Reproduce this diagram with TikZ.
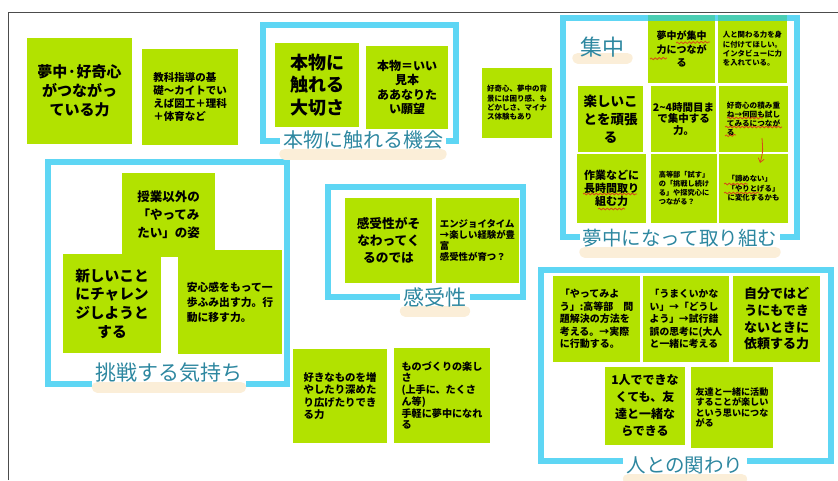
\documentclass[tikz,border=0pt]{standalone}
\usepackage{fontspec}
\newfontfamily\jp{Noto Sans CJK JP}
\usetikzlibrary{calc,decorations.pathmorphing,arrows.meta}
\definecolor{notegreen}{RGB}{178,226,0}
\definecolor{framecyan}{RGB}{40,200,240}
\definecolor{titleteal}{RGB}{45,135,160}
\definecolor{hlbeige}{RGB}{251,238,216}
\definecolor{redpen}{RGB}{214,75,25}
\newcommand\jpfs[2]{\jp\bfseries\fontsize{#1}{#2}\selectfont}
\newcommand\jpt[1]{\jp\fontsize{#1}{#1}\selectfont}
\pgfdeclarelayer{back}
\pgfdeclarelayer{mid}
\pgfsetlayers{back,mid,main}
\begin{document}
\begin{tikzpicture}[x=1pt,y=-1pt,
  note/.style={fill=notegreen, inner sep=0pt, text=black},
  cnote/.style={note, align=center},
  lnote/.style={note, align=left},
  sz/.style n args={2}{minimum width=#1pt, minimum height=#2pt},
  frame/.style={draw=framecyan, line width=5.5pt, opacity=0.75},
  ftitle/.style={text=titleteal, inner sep=1pt},
  hl/.style={draw=hlbeige, line width=11pt, line cap=round},
  squig/.style={draw=redpen, line width=0.8pt, decorate, decoration={snake, amplitude=0.9pt, segment length=4pt}},
  redarrow/.style={draw=redpen, line width=0.8pt, -{Straight Barb[length=4pt,width=6pt]}},
  outer/.style={draw=black!70, line width=1pt}
]
\useasboundingbox (0,0) rectangle (838,480);
\draw[outer] (8,480) -- (8,12) -- (838,12);

\begin{pgfonlayer}{back}
\node[cnote, sz={105}{106}, font=\jpfs{15}{19}] (b1) at (79.5,91) {夢中·好奇心\\がつながっ\\ている力};
\node[lnote, sz={96}{96}, font=\jpfs{10.5}{12.8}] (b2) at (190,97) {教科指導の基\\礎～カイトでい\\えば図工＋理科\\＋体育など};
\node[cnote, sz={84}{84}, font=\jpfs{18}{22.5}] (b3) at (317,85) {本物に\\触れる\\大切さ};
\node[cnote, sz={82}{83}, font=\jpfs{12}{14.5}] (b4) at (407,87.5) {本物＝いい\\見本\\ああなりた\\い願望};
\node[lnote, sz={70}{70}, font=\jpfs{7.5}{9.3}] (b5) at (517,103) {好奇心、夢中の背\\景には困り感、も\\どかしさ、マイナ\\ス体験もあり};
\node[cnote, sz={67}{68}, font=\jpfs{10}{13.3}] (b6) at (681.5,49) {夢中が集中\\力につなが\\る};
\node[lnote, sz={69}{68}, font=\jpfs{7.4}{9.4}] (b7) at (752.5,49) {人と関わる力を身\\に付けてほしい。\\インタビューに力\\を入れている。};
\node[cnote, sz={65}{66}, font=\jpfs{13.5}{18}] (b8) at (610.5,119) {楽しいこ\\とを頑張\\る};
\node[cnote, sz={65}{66}, font=\jpfs{10.5}{11.5}] (b9) at (683.5,119) {2\string~4時間目ま\\で集中する\\力。};
\node[lnote, sz={69}{66}, font=\jpfs{7.6}{9.3}] (b10) at (753.5,119) {好奇心の積み重\\ね→何回も試し\\てみるにつなが\\る};
\node[cnote, sz={69}{69}, font=\jpfs{11}{13.3}] (b11) at (611.5,188.5) {作業などに\\長時間取り\\組む力};
\node[lnote, sz={66}{69}, font=\jpfs{7.2}{9}] (b12) at (684,188.5) {高等部「試す」\\の「挑戦し続け\\る」や探究心に\\つながる？};
\node[lnote, sz={69}{69}, font=\jpfs{7.4}{9.5}] (b13) at (753.5,188.5) {「諦めない」\\「やりとげる」\\に変化するかも};
\node[cnote, sz={93}{84}, font=\jpfs{12.5}{18}] (b14) at (168.5,215) {授業以外の\\「やってみ\\たい」の姿};
\node[cnote, sz={98}{99}, font=\jpfs{14.7}{18.7}] (b15) at (112,303.5) {新しいこと\\にチャレン\\ジしようと\\する};
\node[lnote, sz={104}{104}, font=\jpfs{10.8}{15}] (b16) at (230,302) {安心感をもって一\\歩ふみ出す力。行\\動に移す力。};
\node[cnote, sz={87}{85}, font=\jpfs{12.7}{16.7}] (b17) at (388.5,240.5) {感受性がそ\\なわってく\\るのでは};
\node[lnote, sz={83}{85}, font=\jpfs{9.4}{11}] (b18) at (477.5,240.5) {エンジョイタイム\\→楽しい経験が豊\\富\\感受性が育つ？};
\node[lnote, sz={94}{94}, font=\jpfs{10.4}{12.6}] (b19) at (340,396) {好きなものを増\\やしたり深めた\\り広げたりでき\\る力};
\node[lnote, sz={96}{95}, font=\jpfs{10.1}{11.7}] (b20) at (442,395.5) {ものづくりの楽し\\さ\\(上手に、たくさ\\ん等)\\手軽に夢中になれ\\る};
\node[lnote, sz={87}{86}, font=\jpfs{10}{12.5}] (b21) at (596.5,319) {「やってみよ\\う」:高等部　問\\題解決の方法を\\考える。→実際\\に行動する。};
\node[lnote, sz={86}{86}, font=\jpfs{9.8}{12.5}] (b22) at (686,319) {「うまくいかな\\い」→「どうし\\よう」→試行錯\\誤の思考に(大人\\と一緒に考える};
\node[cnote, sz={87}{86}, font=\jpfs{13}{16.7}] (b23) at (776.5,319) {自分ではど\\うにもでき\\ないときに\\依頼する力};
\node[cnote, sz={80}{78}, font=\jpfs{12}{17}] (b24) at (645,406) {1人でできな\\くても、友\\達と一緒な\\らできる};
\node[lnote, sz={82}{81}, font=\jpfs{9.1}{10.5}] (b25) at (732,407.5) {友達と一緒に活動\\することが楽しい\\という思いにつな\\がる};

\draw[frame] (263,25) rectangle (456,141);
\draw[frame] (563,18) rectangle (797,237);
\draw[frame] (48,162) rectangle (287,384);
\draw[frame] (328,187) rectangle (523,297);
\draw[frame] (541,270) rectangle (831,461);
\end{pgfonlayer}

\node[ftitle, font=\jpt{20}] (t1) at (363,140) {本物に触れる機会};
\node[ftitle, font=\jpt{19.5}] (t2) at (680,238) {夢中になって取り組む};
\node[ftitle, font=\jpt{21}] (t3) at (169,373) {挑戦する気持ち};
\node[ftitle, font=\jpt{21}] (t4) at (435,297) {感受性};
\node[ftitle, font=\jpt{19.5}] (t5) at (685,465) {人との関わり};
\node[ftitle, font=\jpt{22}] (t6) at (602,47) {集中};

\begin{pgfonlayer}{mid}
\foreach \t in {t1,t2,t3,t4,t5}{
  \fill[white] ($(\t.north west)+(-2,0)$) rectangle ($(\t.south east)+(2,6)$);
  \draw[hl] ($(\t.west)+(3,14)$) -- ($(\t.east)+(-3,14)$);
}
\draw[hl] ($(t6.west)+(-1,11)$) -- ($(t6.east)+(2,11)$);
\end{pgfonlayer}

% red pen annotations
\draw[squig] (676,43) -- (710,42);
\draw[squig] (650,59) -- (667,58);
\draw[squig] (727,118) -- (763,118);
\draw[squig] (725,127) -- (782,127);
\draw[squig] (725,136) -- (736,135);
\draw[squig] (583,194) -- (637,194);
\draw[squig] (598,209) -- (625,209);
\draw[squig] (724,184) -- (748,184);
\draw[squig] (724,193) -- (760,193);
\coordinate (arrA) at (762,138);
\coordinate (arrB) at (760,163);
\draw[redarrow] (arrA) .. controls (763,152) .. (arrB);
\end{tikzpicture}
\end{document}
